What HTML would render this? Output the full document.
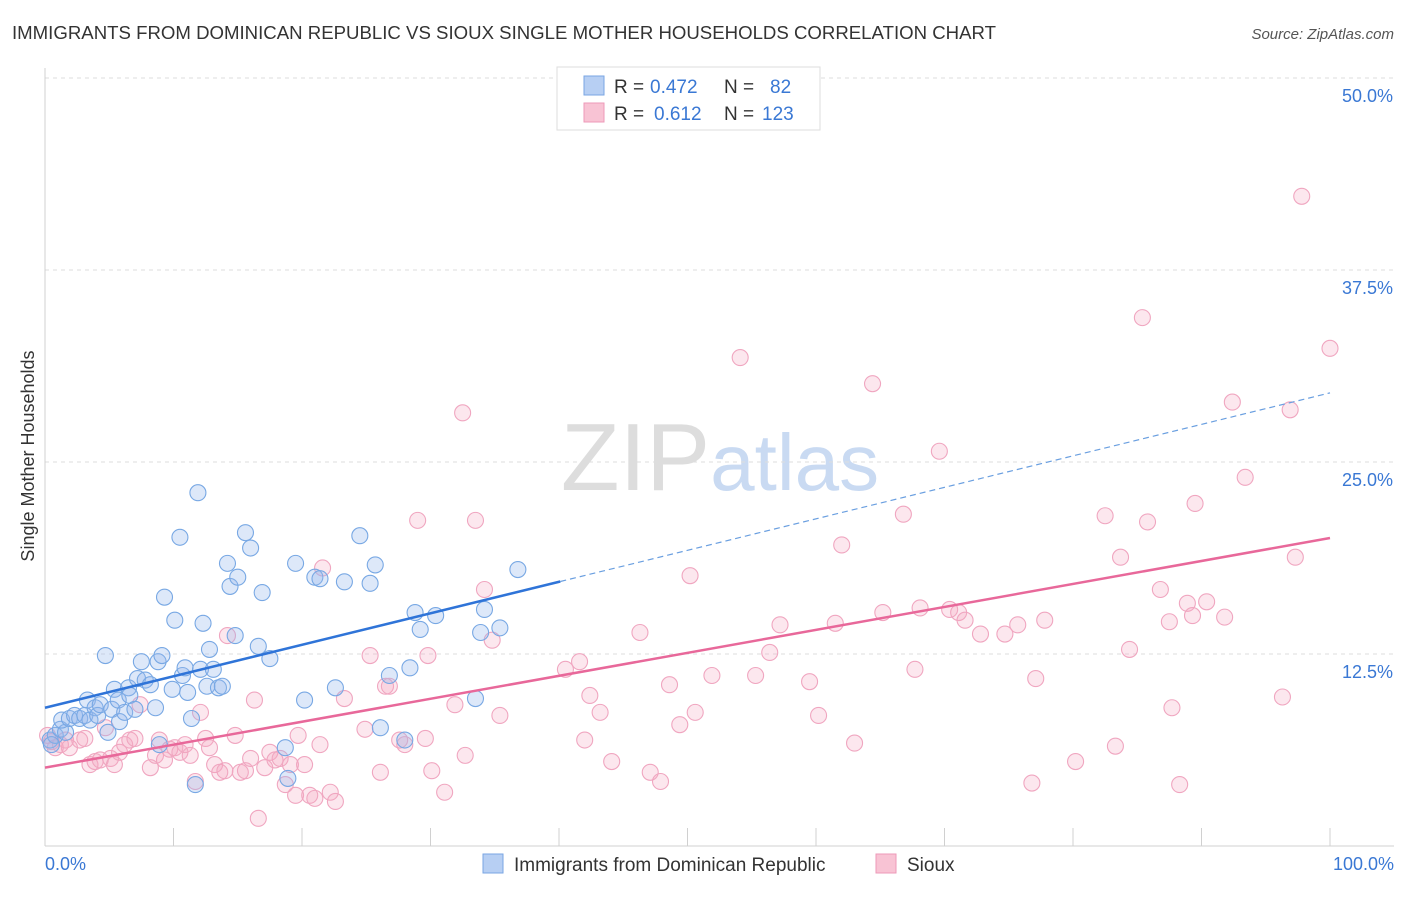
<!DOCTYPE html>
<html><head><meta charset="utf-8"><style>
body{margin:0;background:#fff;font-family:"Liberation Sans",sans-serif;}
svg text{font-family:"Liberation Sans",sans-serif;}
</style></head><body>
<svg id="chart" width="1406" height="892" xmlns="http://www.w3.org/2000/svg">
<text x="12" y="39" font-size="18" fill="#333" textLength="984" lengthAdjust="spacingAndGlyphs">IMMIGRANTS FROM DOMINICAN REPUBLIC VS SIOUX SINGLE MOTHER HOUSEHOLDS CORRELATION CHART</text>
<text x="1394" y="39" font-size="15" fill="#555" font-style="italic" text-anchor="end">Source: ZipAtlas.com</text>
<text x="720" y="490" font-size="96" text-anchor="middle" fill="#ddd" font-family="Liberation Serif">ZIP<tspan fill="#c9daf2" font-family="Liberation Sans" font-size="80">atlas</tspan></text>
<g id="grid"></g><g id="axes"></g><g id="pts"></g><g id="trends"></g>
<text transform="translate(34,456) rotate(-90)" font-size="18" fill="#333" text-anchor="middle">Single Mother Households</text>
<g>
<rect x="557" y="67" width="263" height="63" fill="#fff" stroke="#ddd"/>
<rect x="584" y="76" width="20" height="19" fill="#b7cff3" stroke="#7aa6e3"/>
<rect x="584" y="103" width="20" height="19" fill="#f8c3d4" stroke="#ee9ab8"/>
<text y="93" font-size="19" fill="#333"><tspan x="614">R =</tspan><tspan x="650" fill="#3a78d4">0.472</tspan><tspan x="724">N =</tspan><tspan x="770" fill="#3a78d4">82</tspan></text>
<text y="120" font-size="19" fill="#333"><tspan x="614">R =</tspan><tspan x="654" fill="#3a78d4">0.612</tspan><tspan x="724">N =</tspan><tspan x="762" fill="#3a78d4">123</tspan></text>
</g>
<g>
<rect x="483" y="854" width="20" height="19" fill="#b7cff3" stroke="#7aa6e3"/>
<text x="514" y="871" font-size="19" fill="#333">Immigrants from Dominican Republic</text>
<rect x="876" y="854" width="20" height="19" fill="#f8c3d4" stroke="#ee9ab8"/>
<text x="907" y="871" font-size="19" fill="#333">Sioux</text>
</g>
</svg>
<script>
const yTicks=[12.5,25.0,37.5,50.0];
const xTickLabels=["0.0%","100.0%"];
const blueX=[.4,.8,1.2,.5,1.6,1.3,1.9,2.3,2.7,3.1,3.3,3.5,3.9,4.1,4.3,4.7,4.9,5.2,5.4,5.7,5.8,6.2,6.5,6.6,7.0,7.2,7.5,7.8,8.2,8.6,8.8,8.9,9.1,9.3,9.9,10.1,10.5,10.7,10.9,11.1,11.4,11.7,11.9,12.1,12.3,12.6,12.8,13.1,13.5,13.8,14.2,14.4,14.8,15.0,15.6,16.0,16.6,16.9,17.5,18.7,18.9,19.5,20.2,21.0,21.4,22.6,23.3,24.5,25.3,25.7,26.1,26.8,28.0,28.4,28.8,29.2,30.4,33.5,33.9,34.2,35.4,36.8];
const blueY=[6.9,7.2,7.6,6.6,7.4,8.2,8.3,8.5,8.3,8.5,9.5,8.2,9.0,8.5,9.2,12.4,7.4,8.9,10.2,9.5,8.1,8.7,10.3,9.8,8.9,10.9,12.0,10.8,10.5,9.0,12.0,6.6,12.4,16.2,10.2,14.7,20.1,11.1,11.6,10.0,8.3,4.0,23.0,11.5,14.5,10.4,12.8,11.5,10.3,10.4,18.4,16.9,13.7,17.5,20.4,19.4,13.0,16.5,12.2,6.4,4.4,18.4,9.5,17.5,17.4,10.3,17.2,20.2,17.1,18.3,7.7,11.1,6.9,11.6,15.2,14.1,15.0,9.6,13.9,15.4,14.2,18.0];
const pinkX=[.2,.5,.8,1.2,1.6,1.9,2.7,3.1,3.5,3.9,4.3,4.7,5.1,5.4,5.8,6.2,6.6,7.0,7.4,8.2,8.6,8.9,9.3,9.7,10.1,10.5,10.9,11.3,11.7,12.1,12.5,12.8,13.2,13.6,14.0,14.2,14.8,15.2,15.6,16.0,16.3,16.6,17.1,17.5,17.9,18.3,18.7,19.1,19.5,19.7,20.2,20.6,21.0,21.4,21.6,22.2,22.6,23.3,24.9,25.3,26.1,26.5,26.8,27.6,28.0,29.0,29.6,29.8,30.1,31.1,31.9,32.5,32.7,33.5,34.2,34.8,35.4,40.5,41.6,42.0,42.4,43.2,44.1,46.3,47.1,47.9,48.6,49.4,50.2,50.6,51.9,54.1,55.3,56.4,57.2,59.5,60.2,61.5,62.0,63.0,64.4,65.2,66.8,67.7,68.1,69.6,70.4,71.1,71.6,72.8,74.7,75.7,76.8,77.1,77.8,80.2,82.5,83.3,83.7,84.4,85.4,85.8,86.8,87.5,87.7,88.3,88.9,89.3,89.5,90.4,91.8,92.4,93.4,96.3,96.9,97.3,97.8,100];
const pinkY=[7.2,6.8,6.4,6.6,6.9,6.4,6.9,7.0,5.3,5.5,5.6,7.7,5.7,5.3,6.1,6.6,6.9,7.0,9.2,5.1,5.9,6.9,5.6,6.3,6.4,6.1,6.6,5.9,4.2,8.7,7.0,6.4,5.3,4.8,4.9,13.7,7.2,4.8,4.9,5.7,9.5,1.8,5.1,6.1,5.6,5.7,4.0,5.3,3.3,7.2,5.3,3.3,3.1,6.6,18.1,3.5,2.9,9.6,7.6,12.4,4.8,10.4,10.4,6.9,6.6,21.2,7.0,12.4,4.9,3.5,9.2,28.2,5.9,21.2,16.7,13.4,8.5,11.5,12.0,6.9,9.8,8.7,5.5,13.9,4.8,4.2,10.5,7.9,17.6,8.7,11.1,31.8,11.1,12.6,14.4,10.7,8.5,14.5,19.6,6.7,30.1,15.2,21.6,11.5,15.5,25.7,15.4,15.2,14.7,13.8,13.8,14.4,4.1,10.9,14.7,5.5,21.5,6.5,18.8,12.8,34.4,21.1,16.7,14.6,9.0,4.0,15.8,15.0,22.3,15.9,14.9,28.9,24.0,9.7,28.4,18.8,42.3,32.4];
const blueTrend=[9.0,29.5];
const pinkTrend=[5.1,20.05];
const blueSolidEnd=40.1;

const NS="http://www.w3.org/2000/svg";
const xS=v=>45+v*12.85, yS=v=>846-v*15.36;
function mk(parent,tag,attrs){const e=document.createElementNS(NS,tag);for(const k in attrs)e.setAttribute(k,attrs[k]);document.getElementById(parent).appendChild(e);return e;}
yTicks.forEach(t=>{
  const l=mk('grid','line',{x1:45,x2:1394,y1:yS(t),y2:yS(t),stroke:'#ddd','stroke-dasharray':'4,4'});
  
  
  const tx=mk('grid','text',{x:1393,y:yS(t)+24,'font-size':18,fill:'#3a78d4','text-anchor':'end'});
  tx.textContent=t.toFixed(1)+'%';
  
  
});
const ax=mk('axes','line',{x1:45,x2:45,y1:68,y2:846,stroke:'#d0d0d0'});


const bx=mk('axes','line',{x1:45,x2:1394,y1:846,y2:846,stroke:'#d0d0d0'});


for(let i=1;i<=10;i++){
  const t=mk('axes','line',{x1:xS(i*10),x2:xS(i*10),y1:828,y2:846,stroke:'#d0d0d0'});
  
  
}
[[0,'start',45],[100,'end',1394]].forEach((a,i)=>{
  const t=mk('axes','text',{x:a[2],y:870,'font-size':18,fill:'#3a78d4','text-anchor':a[1]});
  t.textContent=xTickLabels[i];
  
  
});
function pts(X,Y,fill,stroke,name){X.forEach((x,i)=>{
  const c=mk('pts','circle',{cx:xS(x),cy:yS(Y[i]),r:8,fill:fill,stroke:stroke,'stroke-width':1.1});
  
  
});}
pts(pinkX,pinkY,'rgba(245,170,195,0.28)','#f0a6c0','sioux-point');
pts(blueX,blueY,'rgba(150,185,235,0.32)','#78a8e4','dominican-point');
const bAt=x=>blueTrend[0]+(blueTrend[1]-blueTrend[0])*x/100;
const pAt=x=>pinkTrend[0]+(pinkTrend[1]-pinkTrend[0])*x/100;
const t1=mk('trends','line',{x1:xS(0),y1:yS(bAt(0)),x2:xS(blueSolidEnd),y2:yS(bAt(blueSolidEnd)),stroke:'#2f74d8','stroke-width':2.5});


const t2=mk('trends','line',{x1:xS(blueSolidEnd),y1:yS(bAt(blueSolidEnd)),x2:xS(100),y2:yS(bAt(100)),stroke:'#6a9fe0','stroke-width':1.2,'stroke-dasharray':'6,4'});


const t3=mk('trends','line',{x1:xS(0),y1:yS(pAt(0)),x2:xS(100),y2:yS(pAt(100)),stroke:'#e8689a','stroke-width':2.5});


</script>
</body></html>
